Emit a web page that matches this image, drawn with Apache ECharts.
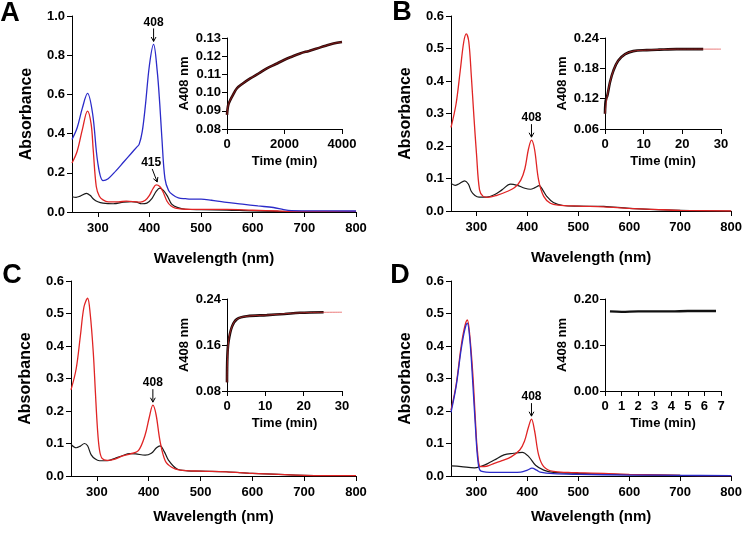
<!DOCTYPE html>
<html><head><meta charset="utf-8">
<script src="https://cdn.jsdelivr.net/npm/echarts@6/dist/echarts.min.js"></script>
<style>html,body{margin:0;padding:0;background:#fff}#c{width:745px;height:537px}</style>
</head><body><div id="c"></div>
<script>
// ---------- Panel A spectra ----------
const wlA_blue  = [250,260,270,280,290,300,310,320,335,350,365,375,380,386,392,400,408,415,420,424,430,437,445,456,470,480,500,520,545,580,610,640,660,675,700,800];
const absA_blue = [0.37,0.43,0.53,0.605,0.50,0.25,0.16,0.17,0.21,0.255,0.30,0.33,0.345,0.41,0.54,0.75,0.855,0.72,0.55,0.38,0.17,0.11,0.088,0.072,0.068,0.066,0.066,0.06,0.05,0.04,0.031,0.023,0.012,0.007,0.006,0.005];
const wlA_red   = [250,260,270,280,287,291,297,303,310,320,340,355,370,382,392,400,407,413,420,426,434,442,450,470,500,550,600,650,700,800];
const absA_red  = [0.25,0.31,0.42,0.515,0.45,0.32,0.13,0.08,0.062,0.052,0.052,0.055,0.053,0.05,0.06,0.085,0.12,0.138,0.13,0.105,0.055,0.03,0.02,0.014,0.013,0.013,0.009,0.005,0.003,0.003];
const wlA_black = [250,258,265,278,285,292,300,310,330,350,365,375,385,395,405,413,420,427,435,443,455,470,500,550,600,700,800];
const absA_black= [0.078,0.075,0.08,0.095,0.085,0.065,0.052,0.045,0.042,0.05,0.053,0.05,0.042,0.045,0.07,0.105,0.122,0.11,0.08,0.04,0.022,0.014,0.012,0.01,0.006,0.002,0.002];

// ---------- Panel B spectra ----------
const wlB_red   = [250,260,268,275,280,285,290,295,300,306,313,322,340,360,375,387,395,402,408,414,422,432,445,460,500,550,600,650,700,800];
const absB_red  = [0.257,0.33,0.43,0.52,0.545,0.52,0.413,0.29,0.177,0.065,0.045,0.042,0.048,0.06,0.072,0.095,0.13,0.19,0.218,0.19,0.095,0.045,0.024,0.018,0.015,0.013,0.008,0.005,0.002,0.0];
const wlB_black = [250,258,265,277,284,290,297,305,320,335,350,367,380,395,406,415,423,430,438,451,470,500,550,600,700,800];
const absB_black= [0.085,0.079,0.083,0.093,0.083,0.06,0.048,0.043,0.043,0.05,0.065,0.083,0.079,0.07,0.067,0.072,0.078,0.065,0.045,0.026,0.017,0.015,0.014,0.008,0.002,0.0];

// ---------- Panel C spectra ----------
const wlC_red   = [250,260,268,275,282,287,293,297,301,305,310,320,335,350,365,380,393,401,408,414,422,432,445,460,500,550,600,700,800];
const absC_red  = [0.265,0.33,0.43,0.52,0.547,0.5,0.38,0.26,0.147,0.08,0.054,0.048,0.052,0.062,0.068,0.078,0.126,0.18,0.218,0.19,0.106,0.046,0.026,0.018,0.015,0.013,0.008,0.002,0.001];
const wlC_black = [250,260,268,276,282,289,297,305,320,334,350,363,375,393,405,415,422,430,438,454,475,500,550,600,700,800];
const absC_black= [0.097,0.087,0.092,0.1,0.093,0.065,0.052,0.047,0.047,0.054,0.063,0.069,0.068,0.064,0.07,0.087,0.093,0.075,0.049,0.022,0.016,0.015,0.013,0.008,0.002,0.001];

// ---------- Panel D spectra ----------
const wlD_red   = [250,260,270,277,282,287,293,298,302,308,320,335,350,368,385,394,402,408,414,422,432,451,480,500,550,600,700,800];
const absD_red  = [0.203,0.28,0.40,0.46,0.48,0.43,0.31,0.17,0.075,0.029,0.03,0.039,0.047,0.059,0.08,0.106,0.15,0.175,0.14,0.065,0.029,0.014,0.011,0.01,0.008,0.005,0.002,0.001];
const wlD_blue  = [250,260,270,277,282,287,293,298,303,309,335,370,387,400,409,418,425,451,500,600,700,800];
const absD_blue = [0.196,0.275,0.39,0.45,0.47,0.42,0.28,0.15,0.045,0.015,0.011,0.011,0.012,0.018,0.024,0.018,0.012,0.007,0.005,0.003,0.002,0.001];
const wlD_black = [250,270,296,309,322,335,354,373,390,403,416,432,451,500,550,600,700,800];
const absD_black= [0.031,0.029,0.025,0.03,0.038,0.049,0.065,0.07,0.073,0.059,0.033,0.018,0.011,0.008,0.006,0.004,0.002,0.001];

// ---------- Insets (A408 vs time) ----------
const tA      = [0,20,50,116,200,347,550,809,1100,1387,1700,1965,2250,2543,2850,3121,3400,3700,4000];
const a408A   = [0.0878,0.091,0.0935,0.096,0.0985,0.1024,0.105,0.1078,0.1105,0.1133,0.1157,0.1178,0.1197,0.1215,0.1229,0.1242,0.1256,0.127,0.1278];
const tB      = [0,0.1,0.3,0.6,1.3,2.2,3.4,5.2,7.3,10.8,14,18.5,22,25.4];
const a408B   = [0.09,0.11,0.12,0.126,0.153,0.176,0.195,0.208,0.214,0.216,0.217,0.218,0.218,0.218];
const tBfit   = [0,0.6,1.3,2.2,3.4,5.2,7.3,10.8,18.5,30];
const a408Bfit= [0.09,0.126,0.153,0.176,0.195,0.208,0.214,0.216,0.218,0.218];
const tC      = [0,0.1,0.4,1.3,2.6,5.2,10.4,15,19,25.2];
const a408C   = [0.095,0.14,0.166,0.192,0.205,0.21,0.212,0.214,0.216,0.217];
const tCfit   = [0,0.4,1.3,2.6,5.2,10.4,19,30];
const a408Cfit= [0.095,0.166,0.192,0.205,0.21,0.212,0.216,0.217];
const tD      = [0.3,1,2,3,4,5,6,6.7];
const a408D   = [0.173,0.172,0.173,0.173,0.173,0.174,0.174,0.174];

// ---------- Tick labels / annotations ----------
const wlTicks = [300,400,500,600,700,800];
const panelLetters = ['A','B','C','D'];
const annotations = [
  {grid:0, x:408, y:0.855, text:'408', dx:0},
  {grid:0, x:415, y:0.138, text:'415', dx:-5},
  {grid:1, x:408, y:0.218, text:'408', dx:0},
  {grid:2, x:408, y:0.218, text:'408', dx:0},
  {grid:3, x:408, y:0.175, text:'408', dx:0}
];

const FONT = 'Liberation Sans, Arial, sans-serif';
const BLUE = '#2b2bc9', RED = '#e02424', BLACK = '#1a1a1a';
const pairs = (xs, ys) => xs.map((x, i) => [x, ys[i]]);

const chart = echarts.init(document.getElementById('c'), null, {renderer: 'canvas'});

const grids = [
  {left:72, top:16, width:284, height:196},
  {left:451, top:16, width:284, height:195},
  {left:71, top:281, width:285, height:195},
  {left:451, top:281, width:284, height:195},
  {left:227, top:38, width:115, height:91},
  {left:605, top:38, width:116, height:91},
  {left:227, top:299, width:115, height:92},
  {left:605, top:299, width:116, height:92}
];

const axisLine = {show:true, onZero:false, lineStyle:{color:'#000', width:1}};
const axisTick = {show:true, length:5, lineStyle:{color:'#000', width:1}};
const lbl = (extra) => Object.assign({color:'#000', fontWeight:'bold', fontSize:13, fontFamily:FONT}, extra);

const xAxes = [], yAxes = [];
for (let i = 0; i < 4; i++) {
  xAxes.push({
    gridIndex:i, type:'value', min:250, max:800, interval:50,
    name:'Wavelength (nm)', nameLocation:'middle', nameGap:(i < 2 ? 39 : 33),
    nameTextStyle:{color:'#000', fontWeight:'bold', fontSize:15, fontFamily:FONT},
    axisLine, axisTick:Object.assign({customValues:wlTicks}, axisTick),
    axisLabel:lbl({margin:10, customValues:wlTicks, formatter:v => (v % 100 === 0 ? String(v) : '')}),
    splitLine:{show:false}
  });
  const ymax = i === 0 ? 1.0 : 0.6, yint = i === 0 ? 0.2 : 0.1;
  yAxes.push({
    gridIndex:i, type:'value', min:0, max:ymax, interval:yint,
    name:'Absorbance', nameLocation:'middle', nameGap:37,
    nameTextStyle:{color:'#000', fontWeight:'bold', fontSize:16, fontFamily:FONT},
    axisLine, axisTick, axisLabel:lbl({margin:7, formatter:v => v.toFixed(1)}),
    splitLine:{show:false}
  });
}
const insetX = [[0,4000,2000],[0,30,10],[0,30,10],[0,7,1]];
const insetY = [[0.08,0.13,0.01],[0.06,0.24,0.06],[0.08,0.24,0.08],[0,0.2,0.1]];
for (let k = 0; k < 4; k++) {
  xAxes.push({
    gridIndex:4+k, type:'value', min:insetX[k][0], max:insetX[k][1], interval:insetX[k][2],
    name:'Time (min)', nameLocation:'middle', nameGap:26,
    nameTextStyle:{color:'#000', fontWeight:'bold', fontSize:13, fontFamily:FONT},
    axisLine, axisTick, axisLabel:lbl({margin:9, formatter:v => String(v)}), splitLine:{show:false}
  });
  yAxes.push({
    gridIndex:4+k, type:'value', min:insetY[k][0], max:insetY[k][1], interval:insetY[k][2],
    name:'A408 nm', nameLocation:'middle', nameGap:36,
    nameTextStyle:{color:'#000', fontWeight:'bold', fontSize:13, fontFamily:FONT},
    axisLine, axisTick, axisLabel:lbl({margin:6, formatter:v => v.toFixed(2)}), splitLine:{show:false}
  });
}

const line = (idx, xs, ys, color, width, extra) => Object.assign({
  type:'line', xAxisIndex:idx, yAxisIndex:idx, data:pairs(xs, ys),
  showSymbol:false, smooth:0.35, lineStyle:{color, width}, itemStyle:{color}, animation:false, silent:true
}, extra || {});

const series = [
  line(0, wlA_black, absA_black, BLACK, 1.2),
  line(0, wlA_red, absA_red, RED, 1.3),
  line(0, wlA_blue, absA_blue, BLUE, 1.3),
  line(1, wlB_black, absB_black, BLACK, 1.2),
  line(1, wlB_red, absB_red, RED, 1.3),
  line(2, wlC_black, absC_black, BLACK, 1.2),
  line(2, wlC_red, absC_red, RED, 1.3),
  line(3, wlD_black, absD_black, BLACK, 1.2),
  line(3, wlD_red, absD_red, RED, 1.3),
  line(3, wlD_blue, absD_blue, BLUE, 1.3),
  line(4, tA, a408A, '#2a0a0a', 2.6),
  line(4, tA, a408A, '#c02020', 0.8, {lineStyle:{color:'#c02020', width:0.8, opacity:0.7}}),
  line(5, tB, a408B, '#1a0a0a', 2.6),
  line(5, tBfit, a408Bfit, '#e03030', 0.8, {lineStyle:{color:'#e03030', width:0.8, opacity:0.8}}),
  line(6, tC, a408C, '#1a0a0a', 2.6),
  line(6, tCfit, a408Cfit, '#e03030', 0.8, {lineStyle:{color:'#e03030', width:0.8, opacity:0.8}}),
  line(7, tD, a408D, '#111', 2.4)
];

chart.setOption({
  backgroundColor:'#fff', animation:false,
  grid:grids, xAxis:xAxes, yAxis:yAxes, series
});

// annotations and panel letters
const graphics = [];
const letterPos = [[10,14],[402,13],[12,276],[400,276]];
panelLetters.forEach((L, i) => {
  graphics.push({type:'text', x:letterPos[i][0], y:letterPos[i][1],
    style:{text:L, fill:'#000', font:'bold 27px ' + FONT, textAlign:'center', textVerticalAlign:'middle'}});
});
annotations.forEach(a => {
  const p = chart.convertToPixel({gridIndex:a.grid}, [a.x, a.y]);
  const tip = [p[0], p[1] - 3];
  const tail = [p[0] + a.dx, tip[1] - 13];
  graphics.push({type:'line', shape:{x1:tail[0], y1:tail[1], x2:tip[0], y2:tip[1]}, style:{stroke:'#000', lineWidth:1}});
  const ang = Math.atan2(tip[1] - tail[1], tip[0] - tail[0]);
  const hl = 5, hw = 0.5;
  graphics.push({type:'polyline', shape:{points:[
    [tip[0] - hl*Math.cos(ang - hw), tip[1] - hl*Math.sin(ang - hw)], tip,
    [tip[0] - hl*Math.cos(ang + hw), tip[1] - hl*Math.sin(ang + hw)]]}, style:{stroke:'#000', lineWidth:1, fill:null}});
  graphics.push({type:'text', x:tail[0] - (a.dx ? 1 : 0), y:tail[1] - 6,
    style:{text:a.text, fill:'#000', font:'bold 12px ' + FONT, textAlign:'center', textVerticalAlign:'middle'}});
});
chart.setOption({graphic:graphics});
</script>
</body></html>
